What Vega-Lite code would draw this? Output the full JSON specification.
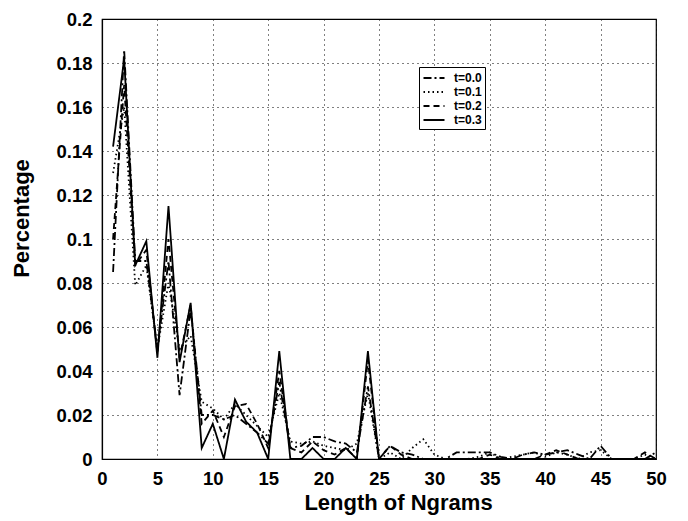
{
  "$schema": "https://vega.github.io/schema/vega-lite/v6.json",
  "width": 554,
  "height": 440,
  "autosize": {"type": "none"},
  "padding": {"left": 102, "top": 19, "right": 32, "bottom": 62},
  "background": "white",
  "config": {
    "font": "Liberation Sans",
    "view": {"stroke": "black", "strokeWidth": 1.2},
    "axis": {
      "labelFont": "Liberation Sans", "labelFontWeight": "bold", "labelFontSize": 18.5, "labelColor": "black",
      "titleFont": "Liberation Sans", "titleFontWeight": "bold", "titleFontSize": 22, "titleColor": "black",
      "grid": true, "gridColor": "black", "gridDash": [1, 4], "gridWidth": 1, "gridOpacity": 1,
      "ticks": false, "domainColor": "black", "domainWidth": 1.2
    }
  },
  "data": {"values": [
    {"x":1,"t":"t=0.0","y":0.085},{"x":2,"t":"t=0.0","y":0.186},{"x":3,"t":"t=0.0","y":0.09},{"x":4,"t":"t=0.0","y":0.09},{"x":5,"t":"t=0.0","y":0.05},{"x":6,"t":"t=0.0","y":0.09},{"x":7,"t":"t=0.0","y":0.029},{"x":8,"t":"t=0.0","y":0.068},{"x":9,"t":"t=0.0","y":0.02},{"x":10,"t":"t=0.0","y":0.02},
    {"x":11,"t":"t=0.0","y":0.018},{"x":12,"t":"t=0.0","y":0.02},{"x":13,"t":"t=0.0","y":0.016},{"x":14,"t":"t=0.0","y":0.012},{"x":15,"t":"t=0.0","y":0.007},{"x":16,"t":"t=0.0","y":0.035},{"x":17,"t":"t=0.0","y":0.005},{"x":18,"t":"t=0.0","y":0.006},{"x":19,"t":"t=0.0","y":0.01},{"x":20,"t":"t=0.0","y":0.01},
    {"x":21,"t":"t=0.0","y":0.008},{"x":22,"t":"t=0.0","y":0.007},{"x":23,"t":"t=0.0","y":0.003},{"x":24,"t":"t=0.0","y":0.033},{"x":25,"t":"t=0.0","y":0},{"x":26,"t":"t=0.0","y":0.006},{"x":27,"t":"t=0.0","y":0.003},{"x":28,"t":"t=0.0","y":0.002},{"x":29,"t":"t=0.0","y":0},{"x":30,"t":"t=0.0","y":0},
    {"x":31,"t":"t=0.0","y":0},{"x":32,"t":"t=0.0","y":0.003},{"x":33,"t":"t=0.0","y":0.003},{"x":34,"t":"t=0.0","y":0.003},{"x":35,"t":"t=0.0","y":0.003},{"x":36,"t":"t=0.0","y":0.001},{"x":37,"t":"t=0.0","y":0},{"x":38,"t":"t=0.0","y":0.002},{"x":39,"t":"t=0.0","y":0.003},{"x":40,"t":"t=0.0","y":0.002},
    {"x":41,"t":"t=0.0","y":0.003},{"x":42,"t":"t=0.0","y":0.004},{"x":43,"t":"t=0.0","y":0.002},{"x":44,"t":"t=0.0","y":0},{"x":45,"t":"t=0.0","y":0.006},{"x":46,"t":"t=0.0","y":0},{"x":47,"t":"t=0.0","y":0},{"x":48,"t":"t=0.0","y":0},{"x":49,"t":"t=0.0","y":0},{"x":50,"t":"t=0.0","y":0.003},

    {"x":1,"t":"t=0.1","y":0.13},{"x":2,"t":"t=0.1","y":0.16},{"x":3,"t":"t=0.1","y":0.079},{"x":4,"t":"t=0.1","y":0.088},{"x":5,"t":"t=0.1","y":0.05},{"x":6,"t":"t=0.1","y":0.08},{"x":7,"t":"t=0.1","y":0.05},{"x":8,"t":"t=0.1","y":0.056},{"x":9,"t":"t=0.1","y":0.026},{"x":10,"t":"t=0.1","y":0.023},
    {"x":11,"t":"t=0.1","y":0.018},{"x":12,"t":"t=0.1","y":0.025},{"x":13,"t":"t=0.1","y":0.02},{"x":14,"t":"t=0.1","y":0.015},{"x":15,"t":"t=0.1","y":0.01},{"x":16,"t":"t=0.1","y":0.03},{"x":17,"t":"t=0.1","y":0.008},{"x":18,"t":"t=0.1","y":0.007},{"x":19,"t":"t=0.1","y":0.008},{"x":20,"t":"t=0.1","y":0.006},
    {"x":21,"t":"t=0.1","y":0.005},{"x":22,"t":"t=0.1","y":0.004},{"x":23,"t":"t=0.1","y":0.007},{"x":24,"t":"t=0.1","y":0.03},{"x":25,"t":"t=0.1","y":0},{"x":26,"t":"t=0.1","y":0.003},{"x":27,"t":"t=0.1","y":0},{"x":28,"t":"t=0.1","y":0.005},{"x":29,"t":"t=0.1","y":0.009},{"x":30,"t":"t=0.1","y":0.002},
    {"x":31,"t":"t=0.1","y":0},{"x":32,"t":"t=0.1","y":0},{"x":33,"t":"t=0.1","y":0},{"x":34,"t":"t=0.1","y":0.001},{"x":35,"t":"t=0.1","y":0.003},{"x":36,"t":"t=0.1","y":0},{"x":37,"t":"t=0.1","y":0.001},{"x":38,"t":"t=0.1","y":0.002},{"x":39,"t":"t=0.1","y":0.003},{"x":40,"t":"t=0.1","y":0.001},
    {"x":41,"t":"t=0.1","y":0.003},{"x":42,"t":"t=0.1","y":0.002},{"x":43,"t":"t=0.1","y":0},{"x":44,"t":"t=0.1","y":0.003},{"x":45,"t":"t=0.1","y":0.004},{"x":46,"t":"t=0.1","y":0},{"x":47,"t":"t=0.1","y":0},{"x":48,"t":"t=0.1","y":0},{"x":49,"t":"t=0.1","y":0.002},{"x":50,"t":"t=0.1","y":0},

    {"x":1,"t":"t=0.2","y":0.1},{"x":2,"t":"t=0.2","y":0.17},{"x":3,"t":"t=0.2","y":0.088},{"x":4,"t":"t=0.2","y":0.095},{"x":5,"t":"t=0.2","y":0.048},{"x":6,"t":"t=0.2","y":0.1},{"x":7,"t":"t=0.2","y":0.046},{"x":8,"t":"t=0.2","y":0.07},{"x":9,"t":"t=0.2","y":0.016},{"x":10,"t":"t=0.2","y":0.022},
    {"x":11,"t":"t=0.2","y":0.01},{"x":12,"t":"t=0.2","y":0.024},{"x":13,"t":"t=0.2","y":0.025},{"x":14,"t":"t=0.2","y":0.016},{"x":15,"t":"t=0.2","y":0.005},{"x":16,"t":"t=0.2","y":0.04},{"x":17,"t":"t=0.2","y":0.005},{"x":18,"t":"t=0.2","y":0.003},{"x":19,"t":"t=0.2","y":0.008},{"x":20,"t":"t=0.2","y":0.004},
    {"x":21,"t":"t=0.2","y":0.002},{"x":22,"t":"t=0.2","y":0.005},{"x":23,"t":"t=0.2","y":0},{"x":24,"t":"t=0.2","y":0.045},{"x":25,"t":"t=0.2","y":0},{"x":26,"t":"t=0.2","y":0.006},{"x":27,"t":"t=0.2","y":0.002},{"x":28,"t":"t=0.2","y":0},{"x":29,"t":"t=0.2","y":0},{"x":30,"t":"t=0.2","y":0},
    {"x":31,"t":"t=0.2","y":0},{"x":32,"t":"t=0.2","y":0},{"x":33,"t":"t=0.2","y":0},{"x":34,"t":"t=0.2","y":0},{"x":35,"t":"t=0.2","y":0.002},{"x":36,"t":"t=0.2","y":0},{"x":37,"t":"t=0.2","y":0},{"x":38,"t":"t=0.2","y":0},{"x":39,"t":"t=0.2","y":0},{"x":40,"t":"t=0.2","y":0.002},
    {"x":41,"t":"t=0.2","y":0.004},{"x":42,"t":"t=0.2","y":0.002},{"x":43,"t":"t=0.2","y":0},{"x":44,"t":"t=0.2","y":0},{"x":45,"t":"t=0.2","y":0},{"x":46,"t":"t=0.2","y":0},{"x":47,"t":"t=0.2","y":0},{"x":48,"t":"t=0.2","y":0},{"x":49,"t":"t=0.2","y":0.003},{"x":50,"t":"t=0.2","y":0},

    {"x":1,"t":"t=0.3","y":0.142},{"x":2,"t":"t=0.3","y":0.182},{"x":3,"t":"t=0.3","y":0.088},{"x":4,"t":"t=0.3","y":0.099},{"x":5,"t":"t=0.3","y":0.046},{"x":6,"t":"t=0.3","y":0.115},{"x":7,"t":"t=0.3","y":0.044},{"x":8,"t":"t=0.3","y":0.071},{"x":9,"t":"t=0.3","y":0.005},{"x":10,"t":"t=0.3","y":0.016},
    {"x":11,"t":"t=0.3","y":0},{"x":12,"t":"t=0.3","y":0.027},{"x":13,"t":"t=0.3","y":0.017},{"x":14,"t":"t=0.3","y":0.012},{"x":15,"t":"t=0.3","y":0},{"x":16,"t":"t=0.3","y":0.049},{"x":17,"t":"t=0.3","y":0},{"x":18,"t":"t=0.3","y":0},{"x":19,"t":"t=0.3","y":0.005},{"x":20,"t":"t=0.3","y":0},
    {"x":21,"t":"t=0.3","y":0},{"x":22,"t":"t=0.3","y":0.005},{"x":23,"t":"t=0.3","y":0},{"x":24,"t":"t=0.3","y":0.049},{"x":25,"t":"t=0.3","y":0},{"x":26,"t":"t=0.3","y":0},{"x":27,"t":"t=0.3","y":0},{"x":28,"t":"t=0.3","y":0},{"x":29,"t":"t=0.3","y":0},{"x":30,"t":"t=0.3","y":0},
    {"x":31,"t":"t=0.3","y":0},{"x":32,"t":"t=0.3","y":0},{"x":33,"t":"t=0.3","y":0},{"x":34,"t":"t=0.3","y":0},{"x":35,"t":"t=0.3","y":0},{"x":36,"t":"t=0.3","y":0},{"x":37,"t":"t=0.3","y":0},{"x":38,"t":"t=0.3","y":0},{"x":39,"t":"t=0.3","y":0},{"x":40,"t":"t=0.3","y":0},
    {"x":41,"t":"t=0.3","y":0},{"x":42,"t":"t=0.3","y":0},{"x":43,"t":"t=0.3","y":0},{"x":44,"t":"t=0.3","y":0},{"x":45,"t":"t=0.3","y":0},{"x":46,"t":"t=0.3","y":0},{"x":47,"t":"t=0.3","y":0},{"x":48,"t":"t=0.3","y":0},{"x":49,"t":"t=0.3","y":0},{"x":50,"t":"t=0.3","y":0}
  ]},
  "mark": {"type": "line", "color": "black", "strokeWidth": 1.8, "clip": true},
  "encoding": {
    "x": {"field": "x", "type": "quantitative", "title": "Length of Ngrams",
          "scale": {"domain": [0, 50], "nice": false},
          "axis": {"values": [0,5,10,15,20,25,30,35,40,45,50], "labelPadding": 10, "titlePadding": 5, "titleX": 296, "labelFlush": false}},
    "y": {"field": "y", "type": "quantitative", "title": "Percentage",
          "scale": {"domain": [0, 0.2], "nice": false},
          "axis": {"values": [0,0.02,0.04,0.06,0.08,0.1,0.12,0.14,0.16,0.18,0.2], "labelExpr": "datum.value == 0 ? '0' : format(datum.value, '.2~f')", "labelPadding": 10, "titlePadding": 22, "titleY": 199, "labelFlush": false}},
    "strokeDash": {"field": "t", "type": "nominal",
          "scale": {"domain": ["t=0.0","t=0.1","t=0.2","t=0.3"], "range": [[8,3,2,3],[1.5,3],[6,4],[1,0]]},
          "legend": {"title": null, "orient": "none", "legendX": 317, "legendY": 48,
                     "strokeColor": "black", "fillColor": "white", "padding": 3,
                     "labelFont": "Liberation Sans", "labelFontWeight": "bold", "labelFontSize": 12, "labelColor": "black",
                     "symbolStrokeColor": "black", "symbolStrokeWidth": 1.8, "symbolSize": 196, "symbolType": "M-1.5,0H1.5", "rowPadding": 0, "labelOffset": 12, "symbolOffset": 4}}
  }
}
